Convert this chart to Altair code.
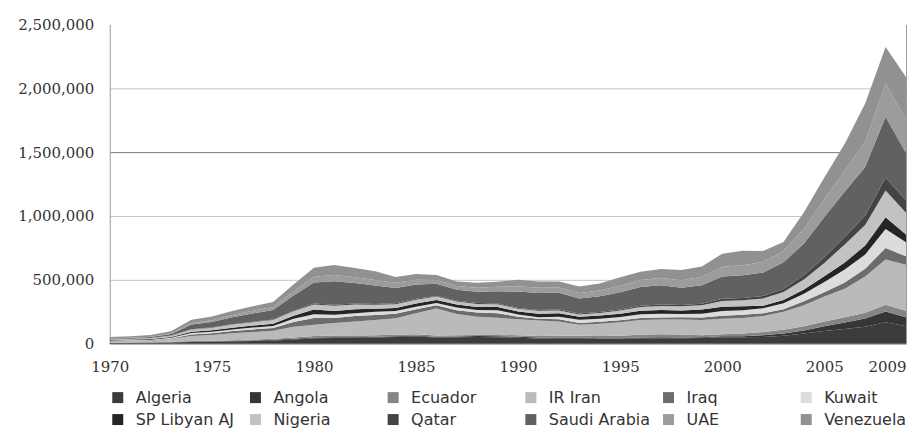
import altair as alt
import pandas as pd

years = [1970, 1971, 1972, 1973, 1974, 1975, 1976, 1977, 1978, 1979,
         1980, 1981, 1982, 1983, 1984, 1985, 1986, 1987, 1988, 1989,
         1990, 1991, 1992, 1993, 1994, 1995, 1996, 1997, 1998, 1999,
         2000, 2001, 2002, 2003, 2004, 2005, 2006, 2007, 2008, 2009]

countries = ["Algeria", "Angola", "Ecuador", "IR Iran", "Iraq", "Kuwait",
             "SP Libyan AJ", "Nigeria", "Qatar", "Saudi Arabia", "UAE", "Venezuela"]

colors = ["#3c3c3c", "#363636", "#858585", "#bababa", "#6c6c6c", "#dcdcdc",
          "#252525", "#c2c2c2", "#444444", "#616161", "#9c9c9c", "#919191"]

algeria = [4900, 5100, 6800, 8700, 13200, 15600, 17700, 21000, 26000, 33000,
           42000, 44000, 45000, 48000, 52000, 56000, 48000, 50000, 52000, 50000,
           47000, 40000, 42000, 43000, 38000, 38000, 42000, 43000, 43000, 44000,
           50000, 50000, 52000, 63000, 80000, 100000, 115000, 132000, 168000, 137000]
angola = [2500, 3000, 3000, 3500, 4000, 4000, 4000, 4500, 5000, 5500,
          6000, 6000, 6000, 7000, 7000, 7000, 7000, 7500, 8000, 9000,
          8000, 8000, 7000, 5000, 4500, 5000, 7500, 7700, 6500, 6200,
          9000, 9000, 15000, 17800, 23600, 37000, 52000, 65000, 85000, 70000]
ecuador = [1600, 1600, 1900, 2500, 3700, 4300, 5300, 6700, 7700, 9400,
           12000, 14000, 13000, 11000, 11000, 11000, 10000, 9500, 9000, 9700,
           11000, 12000, 12700, 15000, 18600, 20000, 21000, 23600, 23000, 17000,
           16000, 21000, 25000, 28600, 33000, 37000, 41000, 45000, 52000, 52000]
iran = [10000, 11000, 12000, 22000, 40000, 45000, 55000, 60000, 62000, 85000,
        88000, 98000, 110000, 120000, 130000, 165000, 210000, 165000, 143000, 135000,
        125000, 122000, 113000, 85000, 95000, 105000, 115000, 115000, 118000, 118000,
        120000, 122000, 125000, 140000, 165000, 195000, 222000, 285000, 355000, 360000]
iraq = [3600, 4200, 4400, 5100, 11500, 13900, 17000, 19900, 23000, 38000,
        54000, 39000, 43000, 39000, 35000, 30000, 26000, 30000, 32000, 35000,
        20000, 14000, 16000, 15000, 15000, 15000, 15000, 16000, 17000, 20000,
        24000, 25000, 22000, 20000, 30000, 35000, 50000, 60000, 90000, 65000]
kuwait = [2900, 3600, 3900, 4900, 11000, 11900, 13000, 14000, 15600, 24000,
          29000, 25000, 22000, 25000, 22000, 21000, 18000, 22000, 21000, 24000,
          18000, 11000, 20000, 24000, 25000, 27000, 31000, 30000, 26000, 30000,
          37000, 35000, 38000, 48000, 59000, 80000, 101000, 112000, 148000, 110000]
libya = [3900, 4500, 5300, 6300, 10500, 11300, 13600, 15800, 16500, 23500,
         36000, 31000, 30000, 23000, 23000, 25000, 24000, 23000, 23000, 24000,
         24000, 27000, 28000, 24000, 25000, 25000, 27000, 29000, 27000, 32000,
         34000, 31000, 20000, 25000, 33000, 44000, 55000, 70000, 92000, 62000]
nigeria = [4500, 5000, 7000, 10000, 17000, 20000, 24000, 27000, 30000, 35000,
           40000, 40000, 38000, 33000, 30000, 30000, 26000, 24000, 24000, 22000,
           20000, 24000, 22000, 18000, 20000, 25000, 30000, 32000, 32000, 34000,
           44000, 47000, 57000, 62000, 80000, 105000, 140000, 160000, 210000, 170000]
qatar = [300, 400, 500, 800, 2400, 2500, 3300, 3700, 4100, 5600,
         8000, 8700, 7600, 6000, 6600, 6200, 5000, 5400, 6000, 6500,
         7000, 7000, 7600, 7200, 7400, 8000, 9000, 11000, 10000, 12000,
         17800, 17500, 19400, 23500, 31700, 44000, 60000, 75000, 100000, 98000]
saudi = [5400, 6500, 8000, 13000, 38000, 42000, 55000, 65000, 75000, 118000,
         165000, 184000, 160000, 144000, 120000, 112000, 95000, 86000, 88000, 95000,
         128000, 132000, 130000, 118000, 124000, 135000, 146000, 150000, 135000, 145000,
         175000, 178000, 185000, 210000, 250000, 315000, 355000, 380000, 478000, 370000]
uae = [1000, 1300, 1900, 3000, 10000, 13000, 17000, 20000, 22000, 31000,
       44000, 49000, 46000, 42000, 40000, 38000, 30000, 30000, 32000, 36000,
       42000, 42000, 42000, 43000, 45000, 50000, 56000, 58000, 60000, 66000,
       75000, 78000, 82000, 90000, 115000, 140000, 165000, 200000, 260000, 260000]
venezuela = [12500, 13000, 14000, 18000, 26000, 29000, 32000, 35000, 40000, 55000,
             70000, 78000, 72000, 70000, 45000, 45000, 40000, 35000, 40000, 40000,
             50000, 48000, 46000, 50000, 55000, 67000, 65000, 70000, 80000, 80000,
             103000, 115000, 85000, 68000, 130000, 170000, 210000, 296000, 286000, 335000]

series = [algeria, angola, ecuador, iran, iraq, kuwait, libya, nigeria,
          qatar, saudi, uae, venezuela]

y_ticks = [0, 500000, 1000000, 1500000, 2000000, 2500000]
x_ticks = [1970, 1975, 1980, 1985, 1990, 1995, 2000, 2005, 2009]

rows = []
for i, (name, vals) in enumerate(zip(countries, series)):
    for yr, v in zip(years, vals):
        rows.append({"year": yr, "country": name, "value": v, "stackorder": i})
df = pd.DataFrame(rows)

y_scale = alt.Scale(domain=[y_ticks[0], y_ticks[-1]], nice=False, zero=True)

area = alt.Chart(df).mark_area(interpolate="linear", opacity=1).encode(
    x=alt.X("year:Q",
            scale=alt.Scale(domain=[years[0], years[-1]], nice=False, zero=False),
            axis=alt.Axis(values=x_ticks, format="d", title=None, ticks=False,
                          tickSize=0, labelPadding=16, grid=False,
                          labelFlush=False,
                          domainColor="#9a9a9a", labelFont="DejaVu Serif",
                          labelFontSize=15, labelColor="#333333",
                          labelAlign={"condition": {"test": "datum.value == 2009", "value": "right"}, "value": "center"})),
    y=alt.Y("value:Q", stack="zero", scale=y_scale,
            axis=alt.Axis(values=y_ticks, format=",d", title=None, ticks=False,
                          tickSize=0, labelPadding=16, domainColor="#9a9a9a",
                          labelFlush=False,
                          labelFont="DejaVu Serif", labelFontSize=15,
                          labelColor="#333333",
                          gridColor={"condition": {"test": "datum.value == 1500000", "value": "#7a7a7a"}, "value": "#c6c6c6"},
                          gridOpacity={"condition": {"test": "datum.value == 2500000 || datum.value == 0", "value": 0}, "value": 1})),
    color=alt.Color("country:N",
                    scale=alt.Scale(domain=countries, range=colors),
                    legend=alt.Legend(orient="none", legendX=0, legendY=366,
                                      direction="horizontal", columns=6,
                                      gridAlign="all", columnPadding=10,
                                      rowPadding=6, symbolType="square",
                                      symbolSize=121, symbolStrokeWidth=0,
                                      symbolOpacity=1,
                                      labelFont="DejaVu Sans", labelFontSize=16,
                                      labelColor="#333333", labelOffset=10,
                                      title=None, padding=0)),
    order=alt.Order("stackorder:Q"),
)

border = alt.Chart(pd.DataFrame({"v": [y_ticks[0]]})).mark_rule(opacity=0).encode(
    y=alt.Y("v:Q", scale=y_scale,
            axis=alt.Axis(orient="right", labels=False, ticks=False, grid=False,
                          domainColor="#9a9a9a", title=None)),
)

chart = alt.layer(area, border).resolve_axis(y="independent").properties(
    width=798, height=320,
    autosize=alt.AutoSizeParams(type="none"),
    padding={"left": 102, "top": 16, "right": 4, "bottom": 86},
    background="white",
).configure_view(stroke=None)

chart.save("out.html", embed_options={"renderer": "svg", "actions": False})
